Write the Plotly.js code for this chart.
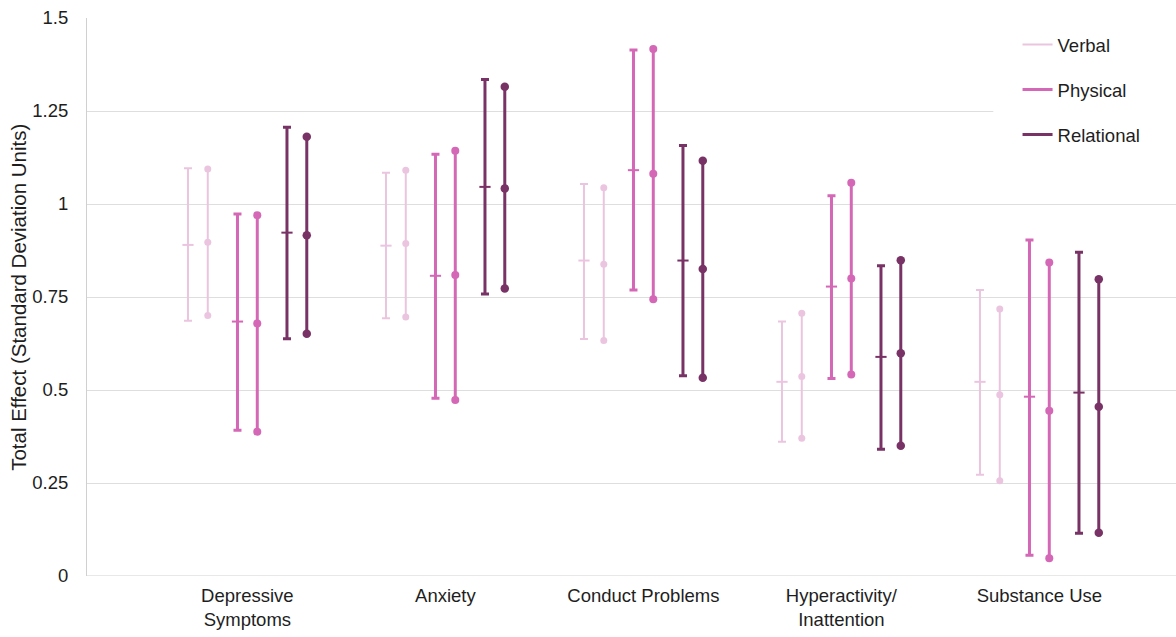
<!DOCTYPE html>
<html><head><meta charset="utf-8">
<script src="https://cdn.plot.ly/plotly-3.0.1.min.js"></script>
<style>html,body{margin:0;padding:0;background:#fff}#chart{width:1176px;height:637px}</style>
</head><body><div id="chart"></div>
<script>
const categories = ['Depressive<br>Symptoms','Anxiety','Conduct Problems','Hyperactivity/<br>Inattention','Substance Use'];
const seriesNames = ['Verbal','Physical','Relational'];
const yTicks = [0,0.25,0.5,0.75,1,1.25,1.5];
const yTickText = ['0','0.25','0.5','0.75','1','1.25','1.5'];

// Model 1 (capped bars)
const verbal1_est = [0.890, 0.888, 0.848, 0.522, 0.522];
const verbal1_lo  = [0.686, 0.693, 0.637, 0.361, 0.272];
const verbal1_hi  = [1.096, 1.084, 1.054, 0.684, 0.769];
const physical1_est = [0.684, 0.807, 1.091, 0.778, 0.482];
const physical1_lo  = [0.392, 0.478, 0.769, 0.531, 0.056];
const physical1_hi  = [0.973, 1.134, 1.414, 1.022, 0.903];
const relational1_est = [0.923, 1.046, 0.848, 0.589, 0.493];
const relational1_lo  = [0.638, 0.758, 0.538, 0.341, 0.115];
const relational1_hi  = [1.206, 1.335, 1.157, 0.834, 0.870];
// Model 2 (dotted ends)
const verbal2_est = [0.897, 0.894, 0.838, 0.536, 0.487];
const verbal2_lo  = [0.700, 0.696, 0.633, 0.370, 0.256];
const verbal2_hi  = [1.094, 1.091, 1.044, 0.706, 0.718];
const physical2_est = [0.679, 0.809, 1.081, 0.800, 0.444];
const physical2_lo  = [0.388, 0.473, 0.744, 0.542, 0.048];
const physical2_hi  = [0.970, 1.143, 1.417, 1.057, 0.843];
const relational2_est = [0.916, 1.042, 0.825, 0.599, 0.455];
const relational2_lo  = [0.651, 0.773, 0.533, 0.350, 0.116];
const relational2_hi  = [1.181, 1.315, 1.116, 0.849, 0.798];

const colors = ['#ebc5e0', '#d468b6', '#783265'];
const widths = [2, 3, 3];
const dotSizes = [7, 8, 8.5];
const off1 = [-0.30, -0.05, 0.20];
const off2 = [-0.20, 0.05, 0.30];

const m1 = [[verbal1_est,verbal1_lo,verbal1_hi],[physical1_est,physical1_lo,physical1_hi],[relational1_est,relational1_lo,relational1_hi]];
const m2 = [[verbal2_est,verbal2_lo,verbal2_hi],[physical2_est,physical2_lo,physical2_hi],[relational2_est,relational2_lo,relational2_hi]];

const traces = [];
for (let s = 0; s < 3; s++) {
  const [est, lo, hi] = m1[s];
  traces.push({
    type: 'scatter', mode: 'markers', showlegend: false, hoverinfo: 'y',
    x: categories.map((c, i) => i + off1[s]), y: est,
    marker: {symbol: 'line-ew-open', size: 8, color: colors[s], line: {color: colors[s], width: 2}},
    error_y: {type: 'data', symmetric: false,
      array: est.map((v, i) => hi[i] - v), arrayminus: est.map((v, i) => v - lo[i]),
      color: colors[s], thickness: widths[s], width: 4}
  });
  const [e2, l2, h2] = m2[s];
  const xs = [], ys = [];
  categories.forEach((c, i) => { xs.push(i + off2[s], i + off2[s], i + off2[s], null); ys.push(l2[i], e2[i], h2[i], null); });
  traces.push({
    type: 'scatter', mode: 'lines+markers', showlegend: false, hoverinfo: 'y',
    x: xs, y: ys, line: {color: colors[s], width: widths[s]},
    marker: {symbol: 'circle', size: dotSizes[s], color: colors[s]}
  });
}
for (let s = 0; s < 3; s++) {
  traces.push({type: 'scatter', mode: 'lines', name: seriesNames[s], x: [null], y: [null],
    line: {color: colors[s], width: widths[s]}, legendgroup: 'g' + s});
}

const txt = '#1e1e1e';
const layout = {
  width: 1176, height: 637,
  margin: {l: 87, r: 0, t: 18, b: 61},
  paper_bgcolor: '#fff', plot_bgcolor: '#fff',
  font: {family: 'Liberation Sans, Arial, sans-serif', size: 18.5, color: txt},
  showlegend: true,
  legend: {x: 0.8545, y: 0.9857, xanchor: 'left', yanchor: 'top', bgcolor: 'rgba(255,255,255,0)',
    font: {size: 18.5, color: txt}, tracegroupgap: 18, itemwidth: 30},
  xaxis: {range: [-0.81, 4.69], tickmode: 'array', tickvals: categories.map((c, i) => i),
    ticktext: categories, showgrid: false, zeroline: false, showline: false, ticks: '',
    ticklabelstandoff: 6,
    tickfont: {size: 18.5, color: txt}},
  yaxis: {range: [0, 1.5], tickmode: 'array', tickvals: yTicks, ticktext: yTickText,
    showgrid: true, gridcolor: '#dedede', gridwidth: 1, zeroline: false,
    showline: true, linecolor: '#d0d0d0', linewidth: 1, ticks: '', ticklen: 0,
    ticklabelstandoff: 14,
    tickfont: {size: 18.5, color: txt}},
  annotations: [{text: 'Total Effect (Standard Deviation Units)', xref: 'paper', yref: 'paper',
    x: -0.0635, y: 0.5, xanchor: 'center', yanchor: 'middle', textangle: -90, showarrow: false,
    font: {size: 20.5, color: txt}}],
  shapes: [
    {type: 'line', xref: 'paper', yref: 'y', x0: 0, x1: 1, y0: 0, y1: 0, line: {color: '#d0d0d0', width: 1}},
    {type: 'rect', xref: 'paper', yref: 'paper', layer: 'above', x0: 0.8322, x1: 1, y0: 0.755, y1: 0.985,
      fillcolor: '#ffffff', line: {width: 0}}
  ]
};
Plotly.newPlot('chart', traces, layout, {displayModeBar: false, staticPlot: true});
</script></body></html>
